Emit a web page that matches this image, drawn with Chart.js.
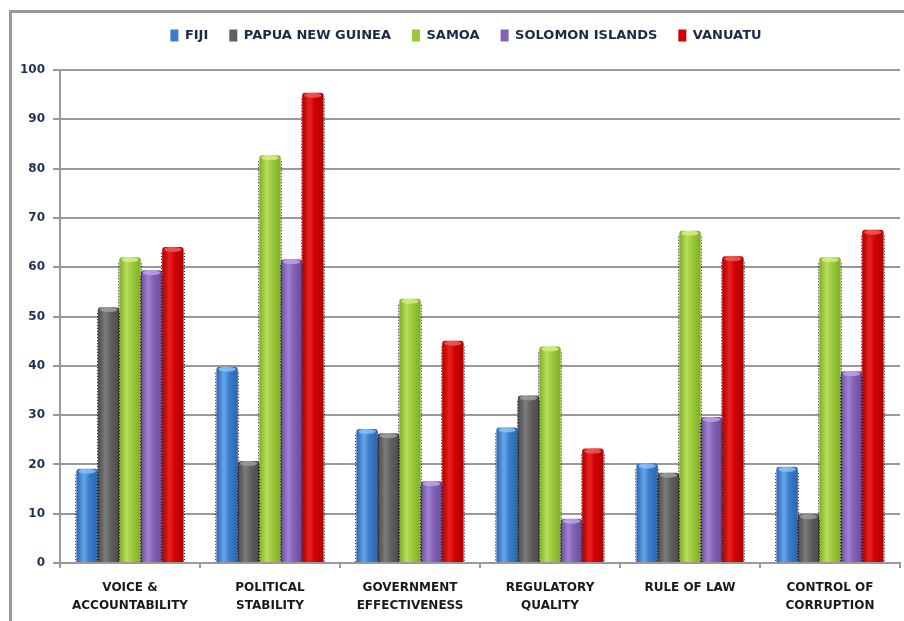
<!DOCTYPE html>
<html><head><meta charset="utf-8">
<script src="https://cdn.jsdelivr.net/npm/chart.js@4"></script>
<style>
html,body{margin:0;padding:0;background:#fff;overflow:hidden}
#wrap{position:relative;width:904px;height:621px}
#frame{position:absolute;left:9px;top:10px;width:1000px;height:1000px;border:3px solid #999;box-sizing:border-box}
canvas{position:absolute;left:0;top:0}
</style></head>
<body><div id="wrap"><div id="frame"></div><canvas id="c" width="904" height="621"></canvas></div>
<script>
const categories = [['VOICE &','ACCOUNTABILITY'],['POLITICAL','STABILITY'],['GOVERNMENT','EFFECTIVENESS'],['REGULATORY','QUALITY'],['RULE OF LAW'],['CONTROL OF','CORRUPTION']];
const seriesNames = ['FIJI','PAPUA NEW GUINEA','SAMOA','SOLOMON ISLANDS','VANUATU'];
const fiji = [19.1, 39.8, 27.2, 27.5, 20.2, 19.5];
const papuaNewGuinea = [51.9, 20.7, 26.3, 34.0, 18.3, 9.9];
const samoa = [62.0, 82.7, 53.6, 43.9, 67.4, 62.0];
const solomonIslands = [59.4, 61.6, 16.6, 9.0, 29.6, 38.9];
const vanuatu = [64.1, 95.4, 45.1, 23.2, 62.2, 67.6];
const yTicks = [0,10,20,30,40,50,60,70,80,90,100];

const palette = [
  {base:'#3b7ccb', edge:'#2c64ad', light:'#66a6ea', cap:'#8cc4f4'},
  {base:'#5f5f5f', edge:'#4a4a4a', light:'#7c7c7c', cap:'#a0a0a0'},
  {base:'#9bc93a', edge:'#7fae28', light:'#b9de5c', cap:'#d8f080'},
  {base:'#8162b4', edge:'#6a4b9c', light:'#a080d0', cap:'#c4a4ec'},
  {base:'#d00000', edge:'#b00000', light:'#e82020', cap:'#f06060'}
];
const values = [fiji, papuaNewGuinea, samoa, solomonIslands, vanuatu];

function gradFor(i){
  return function(ctx){
    const p = palette[i];
    const el = ctx.element;
    if(ctx.type!=='data' || !el || el.x==null || el.width==null || isNaN(el.x)) return p.base;
    const c = ctx.chart.ctx;
    const g = c.createLinearGradient(el.x-el.width/2,0,el.x+el.width/2,0);
    g.addColorStop(0,p.edge);
    g.addColorStop(0.35,p.light);
    g.addColorStop(0.6,p.base);
    g.addColorStop(1,p.edge);
    return g;
  };
}

const dotted = {
  id:'dotted',
  afterDatasetsDraw(chart){
    const c = chart.ctx;
    c.save();
    chart.data.datasets.forEach((ds,di)=>{
      const meta = chart.getDatasetMeta(di);
      meta.data.forEach(el=>{
        const {x,y,base,width} = el.getProps(['x','y','base','width'],true);
        // top cap highlight
        c.setLineDash([]);
        c.fillStyle = palette[di].cap;
        c.globalAlpha = 0.8;
        c.beginPath();
        c.ellipse(x, y+2.5, width/2-2, 2.5, 0, 0, Math.PI*2);
        c.fill();
        c.globalAlpha = 1;
        // dotted edges
        c.strokeStyle='rgba(0,0,0,0.85)';
        c.lineWidth=1;
        c.setLineDash([1,2]);
        c.beginPath();
        c.moveTo(Math.round(x-width/2)-0.5,y+6); c.lineTo(Math.round(x-width/2)-0.5,base);
        c.moveTo(Math.round(x+width/2)+0.5,y+6); c.lineTo(Math.round(x+width/2)+0.5,base);
        c.stroke();
      });
    });
    c.restore();
  }
};

const legendAdjust = {
  id:'legendAdjust',
  beforeInit(chart){
    const lg = chart.legend;
    if(!lg) return;
    const fit = lg.fit;
    lg.fit = function(){ fit.call(this); this.height += 18; };
    const draw = lg.draw;
    lg.draw = function(){ const c=this.ctx; c.save(); c.translate(16,0); draw.call(this); c.restore(); };
  }
};

const chart = new Chart(document.getElementById('c'),{
  type:'bar',
  data:{
    labels:categories,
    datasets: seriesNames.map((n,i)=>({
      label:n,
      data:values[i],
      backgroundColor:gradFor(i),
      borderWidth:0,
      borderRadius:{topLeft:3,topRight:3,bottomLeft:0,bottomRight:0},
      borderSkipped:'bottom',
      barPercentage:1.0,
      categoryPercentage:0.766
    }))
  },
  options:{
    responsive:false,
    animation:false,
    layout:{padding:{left:0,right:4,top:8,bottom:0}},
    plugins:{
      legend:{
        position:'top',
        labels:{
          boxWidth:8, boxHeight:12, padding:21,
          color:'#1c2a48',
          font:{family:'DejaVu Sans',weight:'bold',size:13},
          generateLabels(ch){
            const items = Chart.defaults.plugins.legend.labels.generateLabels(ch);
            items.forEach((it,i)=>{it.fillStyle=palette[i].base; it.strokeStyle=palette[i].base; it.lineWidth=0;});
            return items;
          }
        }
      },
      tooltip:{enabled:false}
    },
    scales:{
      x:{
        offset:true,
        grid:{display:true,drawOnChartArea:false,drawTicks:true,tickLength:5,color:'#999',lineWidth:2,offset:true},
        border:{display:true,color:'#999',width:2},
        ticks:{color:'#1a1a1a',padding:11,maxRotation:0,autoSkip:false,font:{family:'DejaVu Sans',weight:'bold',size:12,lineHeight:1.5}},
        afterFit(s){s.height=58;}
      },
      y:{
        min:0,max:100,
        afterBuildTicks(s){s.ticks=yTicks.map(v=>({value:v}));},
        grid:{color:'#999',lineWidth:2,tickLength:7,drawTicks:true},
        border:{display:true,color:'#999',width:2},
        ticks:{color:'#1f2f55',padding:8,font:{family:'DejaVu Sans',weight:'bold',size:12}},
        afterFit(s){s.width=60;}
      }
    }
  },
  plugins:[legendAdjust,dotted]
});
chart.update('none');
</script></body></html>
